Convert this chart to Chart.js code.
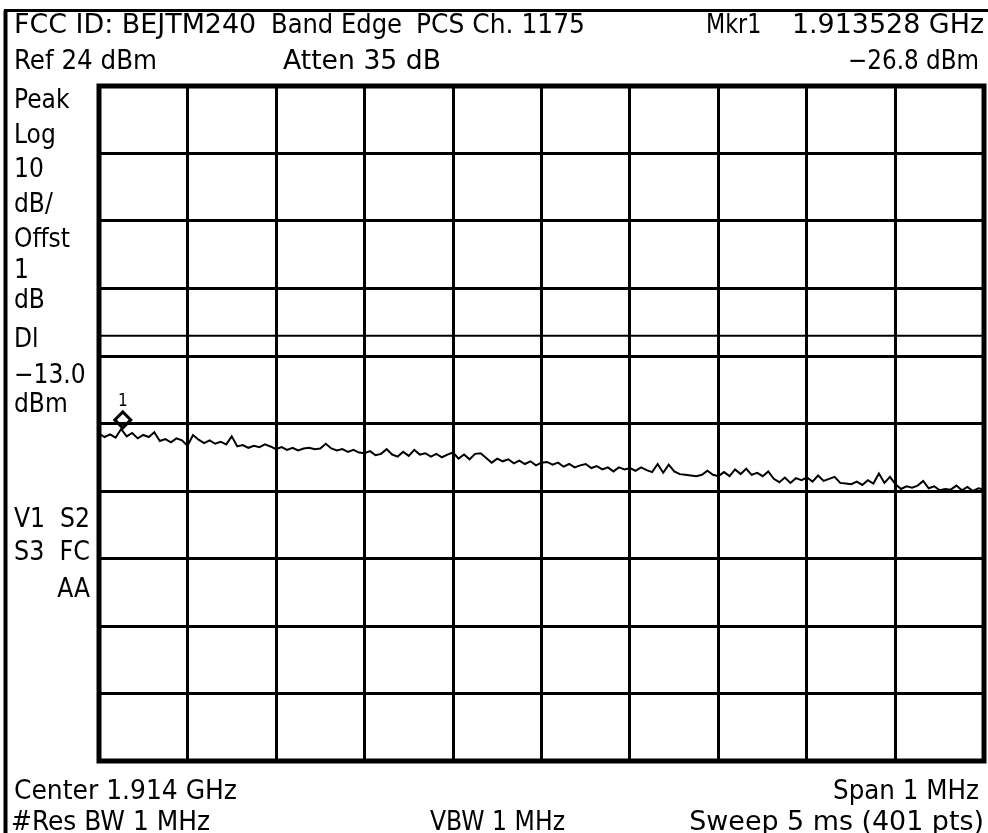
<!DOCTYPE html>
<html>
<head>
<meta charset="utf-8">
<title>Band Edge PCS Ch. 1175</title>
<script src="https://cdn.jsdelivr.net/npm/chart.js@4.4.1/dist/chart.umd.min.js"></script>
<style>
  body { margin: 0; background: #fff; }
  canvas { display: block; }
</style>
</head>
<body>
<canvas id="myChart" width="988" height="833"></canvas>
<script>
// sweep setup (MHz / dBm)
const startFreq = 1913.5;
const stopFreq = 1914.5;
const refLevel = 24;
const bottomLevel = -76;
const displayLine = -13;

// graticule: 10 x 10 divisions
const xGrid = [1913.5, 1913.6, 1913.7, 1913.8, 1913.9, 1914.0, 1914.1, 1914.2, 1914.3, 1914.4, 1914.5];
const yGrid = [24, 14, 4, -6, -16, -26, -36, -46, -56, -66, -76];

// trace, left to right (dBm)
const traceLevels = [
  -27.5, -28.0, -27.6, -28.1, -26.8, -27.9, -27.4, -28.2, -27.7, -28.0,
  -27.3, -28.6, -28.3, -28.8, -28.2, -28.5, -29.3, -27.7, -28.4, -28.9,
  -28.5, -29.0, -28.7, -29.1, -27.9, -29.4, -29.2, -29.6, -29.3, -29.5,
  -29.1, -29.4, -29.8, -29.5, -29.9, -29.6, -30.0, -29.7, -29.6, -29.8,
  -29.7, -29.0, -29.7, -30.0, -29.8, -30.2, -29.9, -30.3, -30.4, -30.1,
  -30.7, -30.5, -29.8, -30.6, -30.9, -30.2, -30.8, -29.9, -30.6, -30.4,
  -30.9, -30.5, -31.0, -30.6, -30.3, -31.2, -30.6, -31.3, -30.5, -30.4,
  -31.1, -31.8, -31.2, -31.6, -31.3, -31.9, -31.5, -32.0, -31.6, -32.2,
  -31.8, -31.7, -32.1, -31.8, -32.4, -32.0, -32.5, -32.2, -32.0, -32.6,
  -32.3, -32.8, -32.5, -33.1, -32.5, -32.8, -32.6, -33.0, -32.5, -32.9,
  -33.2, -32.0, -33.3, -32.1, -33.1, -33.5, -33.6, -33.7, -33.8, -33.6,
  -33.0, -33.6, -33.8, -33.2, -33.8, -32.8, -33.5, -32.7, -33.6, -33.3,
  -33.8, -33.1, -34.2, -34.7, -34.0, -34.8, -34.1, -34.4, -34.0, -34.6,
  -33.7, -34.5, -34.2, -33.9, -34.8, -34.9, -35.0, -34.6, -35.1, -34.4,
  -34.9, -33.4, -34.8, -33.9, -35.0, -35.7, -35.3, -35.5, -35.2, -34.5,
  -35.6, -35.3, -35.9, -35.7, -35.8, -35.2, -35.9, -35.4, -36.0, -35.6,
  -35.8
];

// marker 1
const markerFreq = [1913.528];
const markerLevel = [-26.8];

const stepFreq = (stopFreq - startFreq) / (traceLevels.length - 1);
const tracePoints = traceLevels.map((v, i) => ({ x: startFreq + i * stepFreq, y: v }));

const FONT = '"DejaVu Sans Condensed", "Liberation Sans Narrow", "DejaVu Sans", sans-serif';

// screen annotations: text, x, baseline, align, width (0 = as the font gives it)
const screenText = [
  ['FCC ID: BEJTM240', 14, 33, 'left', 250],
  ['Band Edge', 271, 33, 'left', 131],
  ['PCS Ch. 1175', 416, 33, 'left', 169],
  ['Mkr1', 706, 33, 'left', 54],
  ['1.913528 GHz', 984, 33, 'right', 194],
  ['Ref 24 dBm', 14, 69, 'left', 143],
  ['Atten 35 dB', 283, 69, 'left', 158],
  ['\u221226.8 dBm', 979, 69, 'right', 131],
  ['Peak', 14, 108, 'left', 0],
  ['Log', 14, 143, 'left', 0],
  ['10', 14, 177, 'left', 0],
  ['dB/', 14, 212, 'left', 0],
  ['Offst', 14, 247, 'left', 0],
  ['1', 14, 278, 'left', 0],
  ['dB', 14, 308, 'left', 0],
  ['Dl', 14, 347, 'left', 0],
  ['\u221213.0', 14, 383, 'left', 0],
  ['dBm', 14, 412, 'left', 0],
  ['V1  S2', 14, 527, 'left', 76],
  ['S3  FC', 14, 560, 'left', 76],
  ['AA', 90, 597, 'right', 0],
  ['Center 1.914 GHz', 14, 799, 'left', 223],
  ['Span 1 MHz', 979, 799, 'right', 146],
  ['#Res BW 1 MHz', 11, 830, 'left', 199],
  ['VBW 1 MHz', 430, 830, 'left', 135],
  ['Sweep 5 ms (401 pts)', 984, 830, 'right', 316]
];

function drawText(ctx, str, x, y, align, w) {
  ctx.save();
  ctx.font = '26px ' + FONT;
  const natural = ctx.measureText(str).width;
  // squeeze or stretch a little toward the measured width, never much
  const sx = w ? Math.min(1.15, Math.max(0.95, w / natural)) : 1;
  ctx.translate(x, y);
  ctx.scale(sx, 1);
  ctx.textAlign = align;
  ctx.textBaseline = 'alphabetic';
  ctx.fillStyle = '#000';
  ctx.fillText(str, 0, 0);
  ctx.restore();
}

const screenPlugin = {
  id: 'screenPlugin',
  afterDraw(chart) {
    const ctx = chart.ctx;
    const a = chart.chartArea;
    ctx.save();
    ctx.strokeStyle = '#000';
    // outer screen edge
    ctx.lineWidth = 4;
    ctx.beginPath();
    ctx.moveTo(5.5, 833);
    ctx.lineTo(5.5, 10.5);
    ctx.stroke();
    ctx.lineWidth = 3;
    ctx.beginPath();
    ctx.moveTo(4, 10.5);
    ctx.lineTo(988, 10.5);
    ctx.stroke();
    // graticule frame
    ctx.lineWidth = 5;
    ctx.strokeRect(a.left, a.top, a.right - a.left, a.bottom - a.top);

    // marker diamond, bottom tip on the trace
    const xs = chart.scales.x, ys = chart.scales.y;
    for (let i = 0; i < markerFreq.length; i++) {
      const px = xs.getPixelForValue(markerFreq[i]) - 1;
      const py = ys.getPixelForValue(markerLevel[i]) - 1;
      ctx.lineWidth = 3;
      ctx.beginPath();
      ctx.moveTo(px, py);
      ctx.lineTo(px + 8, py - 8);
      ctx.lineTo(px, py - 16);
      ctx.lineTo(px - 8, py - 8);
      ctx.closePath();
      ctx.stroke();
      ctx.font = '17px ' + FONT;
      ctx.textAlign = 'center';
      ctx.fillStyle = '#000';
      ctx.fillText(String(i + 1), px, py - 22);
    }
    ctx.restore();

    screenText.forEach(t => drawText(ctx, t[0], t[1], t[2], t[3], t[4]));
  }
};

const config = {
  type: 'line',
  data: {
    datasets: [
      {
        label: 'Trace',
        data: tracePoints,
        borderColor: '#000',
        borderWidth: 2,
        pointRadius: 0,
        tension: 0,
        fill: false
      },
      {
        label: 'Display line',
        data: [{ x: startFreq, y: displayLine }, { x: stopFreq, y: displayLine }],
        borderColor: '#000',
        borderWidth: 2,
        pointRadius: 0,
        fill: false
      }
    ]
  },
  options: {
    responsive: false,
    animation: false,
    events: [],
    layout: { padding: { left: 99, top: 86, right: 4, bottom: 72 } },
    plugins: {
      legend: { display: false },
      tooltip: { enabled: false },
      title: { display: false }
    },
    scales: {
      x: {
        type: 'linear',
        min: startFreq,
        max: stopFreq,
        afterBuildTicks: s => { s.ticks = xGrid.map(v => ({ value: v })); },
        ticks: { display: false },
        grid: { color: '#000', lineWidth: 3, drawTicks: false },
        border: { display: false }
      },
      y: {
        type: 'linear',
        min: bottomLevel,
        max: refLevel,
        afterBuildTicks: s => { s.ticks = yGrid.map(v => ({ value: v })); },
        ticks: { display: false },
        grid: { color: '#000', lineWidth: 3, drawTicks: false },
        border: { display: false }
      }
    }
  },
  plugins: [screenPlugin]
};

const myChart = new Chart(document.getElementById('myChart'), config);
</script>
</body>
</html>
